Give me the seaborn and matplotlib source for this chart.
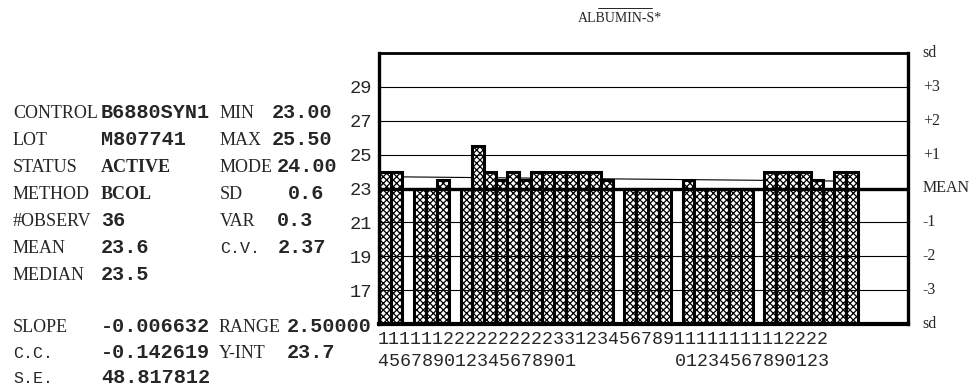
import matplotlib
matplotlib.use("Agg")
import matplotlib.pyplot as plt
import seaborn as sns
import numpy as np
import pandas as pd
from matplotlib.lines import Line2D
from matplotlib.transforms import blended_transform_factory

# Run days (day of month), one slot per calendar day
days = [14, 15, 16, 17, 18, 19, 20, 21, 22, 23, 24, 25, 26, 27, 28, 29, 30, 31,
        1, 2, 3, 4, 5, 6, 7, 8, 9,
        10, 11, 12, 13, 14, 15, 16, 17, 18, 19, 20, 21, 22, 23]

# Albumin control results (g/L); None = no run that day
values = [24.0, 24.0, None, 23.0, 23.0, 23.5, None, 23.0, 25.5, 24.0,
          23.5, 24.0, 23.5, 24.0, 24.0, 24.0, 24.0, 24.0, 24.0, 23.5,
          None, 23.0, 23.0, 23.0, 23.0, None, 23.5, 23.0, 23.0, 23.0,
          23.0, 23.0, None, 24.0, 24.0, 24.0, 24.0, 23.5, 23.0, 24.0,
          24.0]

# Levity-Jennings scale: target mean and +/- sd lines
y_ticks = [17, 19, 21, 23, 25, 27, 29]
target_mean = 23
sd_levels = [31, 29, 27, 25, 23, 21, 19, 17, 15]
sd_labels = ["sd", "+3", "+2", "+1", "MEAN", "-1", "-2", "-3", "sd"]

# Regression of results over time
slope = -0.006632
y_int = 23.7

# Summary statistics panel
stat_names = ["CONTROL", "LOT", "STATUS", "METHOD", "#OBSERV", "MEAN", "MEDIAN"]
stat_values = ["B6880SYN1", "M807741", "ACTIVE", "BCOL", "36", "23.6", "23.5"]
stat2_names = ["MIN", "MAX", "MODE", "SD", "VAR", "C.V."]
stat2_values = ["23.00", "25.50", "24.00", "0.6", "0.3", "2.37"]
fit_names = ["SLOPE", "C.C.", "S.E."]
fit_values = ["-0.006632", "-0.142619", "48.817812"]
fit2_names = ["RANGE", "Y-INT"]
fit2_values = ["2.50000", "23.7"]

title = "ALBUMIN-S*"

sns.set_style("white")
plt.rcParams["font.family"] = ["Liberation Serif", "DejaVu Serif"]
plt.rcParams["hatch.linewidth"] = 0.9

W, H = 970, 389
fig = plt.figure(figsize=(W / 100, H / 100), dpi=100)
fig.patch.set_facecolor("white")


def fx(px):
    return px / W


def fy(py):
    return 1 - py / H


ax = fig.add_axes([fx(379), fy(324), fx(908) - fx(379), fy(53) - fy(324)])
ax.set_facecolor("white")

df = pd.DataFrame({"slot": np.arange(len(days)) + 0.5, "value": values}).dropna()
sns.barplot(data=df, x="slot", y="value", native_scale=True, width=1.0,
            color="white", saturation=1, edgecolor="black", linewidth=2.2,
            hatch="xxxxx", zorder=2, ax=ax)

# Trend line behind the bars
t = np.array([0, len(days)])
ax.plot(t, y_int + slope * t, color="black", lw=0.8, zorder=1)

# sd grid lines and the heavy mean line
for y in y_ticks:
    if y != target_mean:
        ax.axhline(y, color="black", lw=0.8, zorder=3)
ax.axhline(target_mean, color="black", lw=2.4, zorder=4)

ax.set_xlim(0, 45.3)
ax.set_ylim(15, 31)
ax.set_xticks([])
ax.set_xlabel("")
ax.set_ylabel("")
ax.set_yticks(y_ticks)
ax.set_yticklabels([str(v) for v in y_ticks], family="Liberation Mono", fontsize=13.5)
ax.tick_params(axis="y", length=0, pad=5)
for side, lw in [("left", 2.4), ("top", 2.0), ("right", 2.4), ("bottom", 3.0)]:
    ax.spines[side].set_visible(True)
    ax.spines[side].set_color("black")
    ax.spines[side].set_linewidth(lw)

# Right-hand sd scale
tr = blended_transform_factory(ax.transAxes, ax.transData)
for y, lab in zip(sd_levels, sd_labels):
    ax.text(1.028, y, lab, transform=tr, ha="left", va="center",
            fontsize=11.5, family="Liberation Serif", clip_on=False)

# Day labels: tens digit on the first row, units digit on the second
row1 = "".join(str(d)[0] for d in days)
row2 = "".join(str(d)[1] if d >= 10 else " " for d in days)
fig.text(fx(378), fy(340), row1, family="Liberation Mono", fontsize=13.2,
         ha="left", va="center")
fig.text(fx(378), fy(362), row2, family="Liberation Mono", fontsize=13.2,
         ha="left", va="center")

# Title with its overline
fig.text(fx(620), fy(19), title, ha="center", va="center", fontsize=10,
         family="Liberation Serif")
fig.add_artist(Line2D([fx(598), fx(652)], [fy(8), fy(8)], lw=0.6,
                      color="black", transform=fig.transFigure))

# Statistics panel (all entries of a row share one baseline)
mono_names = {"C.V.", "C.C.", "S.E."}
serif_bold = {"ACTIVE", "BCOL"}
BASE = 6


def name_text(x, y, s):
    if s in mono_names:
        fig.text(fx(x), fy(y + BASE), s, family="Liberation Mono", fontsize=12,
                 ha="left", va="baseline")
    else:
        fig.text(fx(x), fy(y + BASE), s, family="Liberation Serif", fontsize=13,
                 ha="left", va="baseline")


def value_text(x, y, s):
    if s in serif_bold:
        fig.text(fx(x), fy(y + BASE), s, family="Liberation Serif", fontsize=13,
                 weight="bold", ha="left", va="baseline")
    else:
        fig.text(fx(x), fy(y + BASE), s, family="Liberation Mono", fontsize=14.5,
                 weight="bold", ha="left", va="baseline")


rows = [112, 139, 166, 193, 220, 247, 274]
for y, n, v in zip(rows, stat_names, stat_values):
    name_text(13, y, n)
    value_text(101, y, v)

stat2_x = [272, 272, 277, 288, 277, 278]
for y, n, v, vx in zip(rows, stat2_names, stat2_values, stat2_x):
    name_text(220, y, n)
    value_text(vx, y, v)

fit_rows = [326, 352, 377]
for y, n, v in zip(fit_rows, fit_names, fit_values):
    name_text(13, y, n)
    value_text(101, y, v)
for y, n, v in zip(fit_rows, fit2_names, fit2_values):
    name_text(219, y, n)
    value_text(287, y, v)

fig.savefig("out.png", dpi=100, facecolor="white")
